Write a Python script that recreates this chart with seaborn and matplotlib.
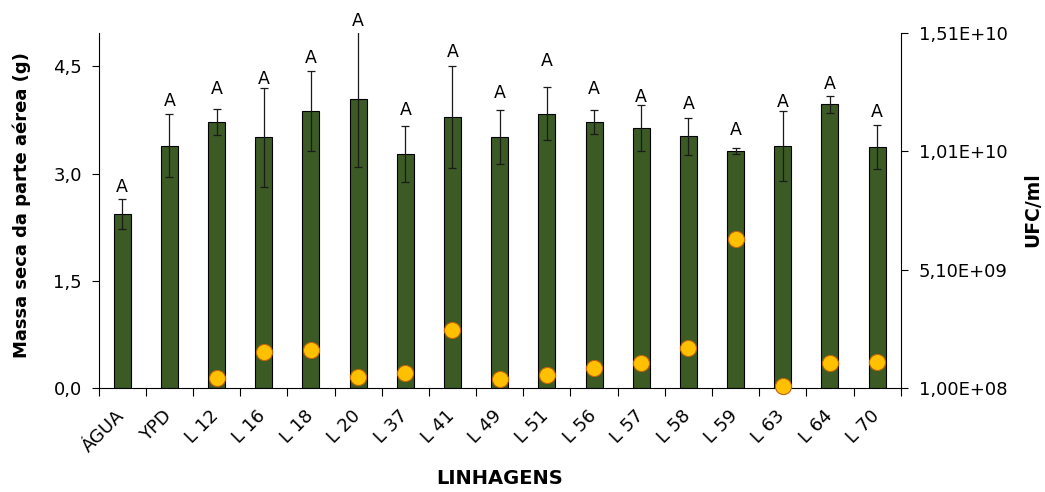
import numpy as np
import pandas as pd
import matplotlib
matplotlib.use("Agg")
import matplotlib.pyplot as plt
import matplotlib.transforms as mtransforms
import seaborn as sns

# Strains tested
linhagens = ["ÁGUA", "YPD", "L 12", "L 16", "L 18", "L 20", "L 37", "L 41", "L 49",
             "L 51", "L 56", "L 57", "L 58", "L 59", "L 63", "L 64", "L 70"]

# Shoot dry mass (g): mean and standard error
massa_seca = [2.44, 3.39, 3.72, 3.51, 3.87, 4.04, 3.28, 3.79, 3.51,
              3.84, 3.72, 3.64, 3.52, 3.32, 3.39, 3.97, 3.37]
erro_padrao = [0.21, 0.44, 0.18, 0.69, 0.56, 0.95, 0.39, 0.71, 0.38,
               0.37, 0.17, 0.32, 0.26, 0.045, 0.49, 0.12, 0.31]

# Statistical grouping letters and the height where each one sits
letras = ["A"] * 17
altura_letras = [2.82, 4.02, 4.18, 4.32, 4.61, 5.14, 3.89, 4.70, 4.13,
                 4.58, 4.18, 4.07, 3.98, 3.61, 4.00, 4.25, 3.86]

# Colony-forming units per ml of each inoculum (none for the controls)
ufc_ml = [np.nan, np.nan, 5.5e8, 1.64e9, 1.72e9, 5.9e8, 7.5e8, 2.56e9, 4.9e8,
          6.5e8, 9.4e8, 1.15e9, 1.81e9, 6.4e9, 2.0e8, 1.15e9, 1.2e9]

# Axis ticks
massa_ticks = [0.0, 1.5, 3.0, 4.5]
ufc_ticks = [1.0e8, 5.1e9, 1.01e10, 1.51e10]

sns.set_theme(style="ticks")
plt.rcParams["font.family"] = ["DejaVu Sans"]
plt.rcParams["text.color"] = "black"
plt.rcParams["axes.edgecolor"] = "black"
plt.rcParams["xtick.color"] = "black"
plt.rcParams["ytick.color"] = "black"

n = len(linhagens)
pos = np.arange(n)
df = pd.DataFrame({"linhagem": linhagens, "massa": massa_seca,
                   "erro": erro_padrao, "ufc": ufc_ml, "pos": pos})

fig = plt.figure(figsize=(10.45, 4.92), dpi=100)
ax = fig.add_axes([0.0944, 0.2108, 0.7675, 0.7227])

sns.barplot(data=df, x="linhagem", y="massa", order=linhagens, color="#3B5A24",
            saturation=1, width=0.36, edgecolor="black", linewidth=0.8,
            errorbar=None, ax=ax, zorder=2)
ax.errorbar(df["pos"], df["massa"], yerr=df["erro"], fmt="none", ecolor="#1a1a1a",
            elinewidth=0.9, capsize=2.8, capthick=0.9, zorder=3)

for i, (letra, h) in enumerate(zip(letras, altura_letras)):
    ax.text(i, h, letra, ha="center", va="center", fontsize=12.5, clip_on=False)

ax.set_xlim(-0.5, n - 0.5)
ax.set_ylim(0, 4.97)
ax.set_yticks(massa_ticks)
ax.set_yticklabels([f"{v:.1f}".replace(".", ",") for v in massa_ticks])
ax.set_xticks(pos)
ax.set_xticklabels(linhagens, rotation=45, ha="right", rotation_mode="anchor")
ax.set_xticks(np.arange(-0.5, n), minor=True)
ax.tick_params(axis="x", which="major", length=0, pad=11, labelsize=13)
ax.tick_params(axis="x", which="minor", length=6, width=0.8, direction="out")
ax.tick_params(axis="y", length=5, width=0.8, direction="out", labelsize=13, pad=7)
# nudge the slanted category names so their ends sit under the bars
shift = mtransforms.ScaledTranslation(-7 / 100, -3 / 100, fig.dpi_scale_trans)
for lbl in ax.get_xticklabels():
    lbl.set_transform(lbl.get_transform() + shift)
ax.set_xlabel("")
ax.set_ylabel("")
for s in ["top", "right"]:
    ax.spines[s].set_visible(False)
for s in ["left", "bottom"]:
    ax.spines[s].set_linewidth(0.8)

ax2 = ax.twinx()
sns.scatterplot(data=df.dropna(subset=["ufc"]), x="pos", y="ufc", ax=ax2, s=135,
                color="#FFC000", edgecolor="#C0650A", linewidth=0.8,
                clip_on=False, zorder=5, legend=False)
ax2.set_xlim(-0.5, n - 0.5)
ax2.set_ylim(1.0e8, 1.51e10)
ax2.set_yticks(ufc_ticks)
ax2.set_yticklabels([f"{v:.2E}".replace(".", ",") for v in ufc_ticks])
ax2.tick_params(axis="y", length=5, width=0.8, direction="out", labelsize=13, pad=8)
ax2.set_ylabel("")
ax2.set_xlabel("")
for s in ["top", "left", "bottom"]:
    ax2.spines[s].set_visible(False)
ax2.spines["right"].set_linewidth(0.8)

fig.text(22 / 1045, 1 - 205 / 492, "Massa seca da parte aérea (g)", rotation=90,
         ha="center", va="center", fontsize=13, fontweight="bold")
fig.text(1033 / 1045, 1 - 210 / 492, "UFC/ml", rotation=90,
         ha="center", va="center", fontsize=13.5, fontweight="bold")
fig.text(500 / 1045, 1 - 478 / 492, "LINHAGENS",
         ha="center", va="center", fontsize=14, fontweight="bold")

fig.savefig("out.png", dpi=100)
